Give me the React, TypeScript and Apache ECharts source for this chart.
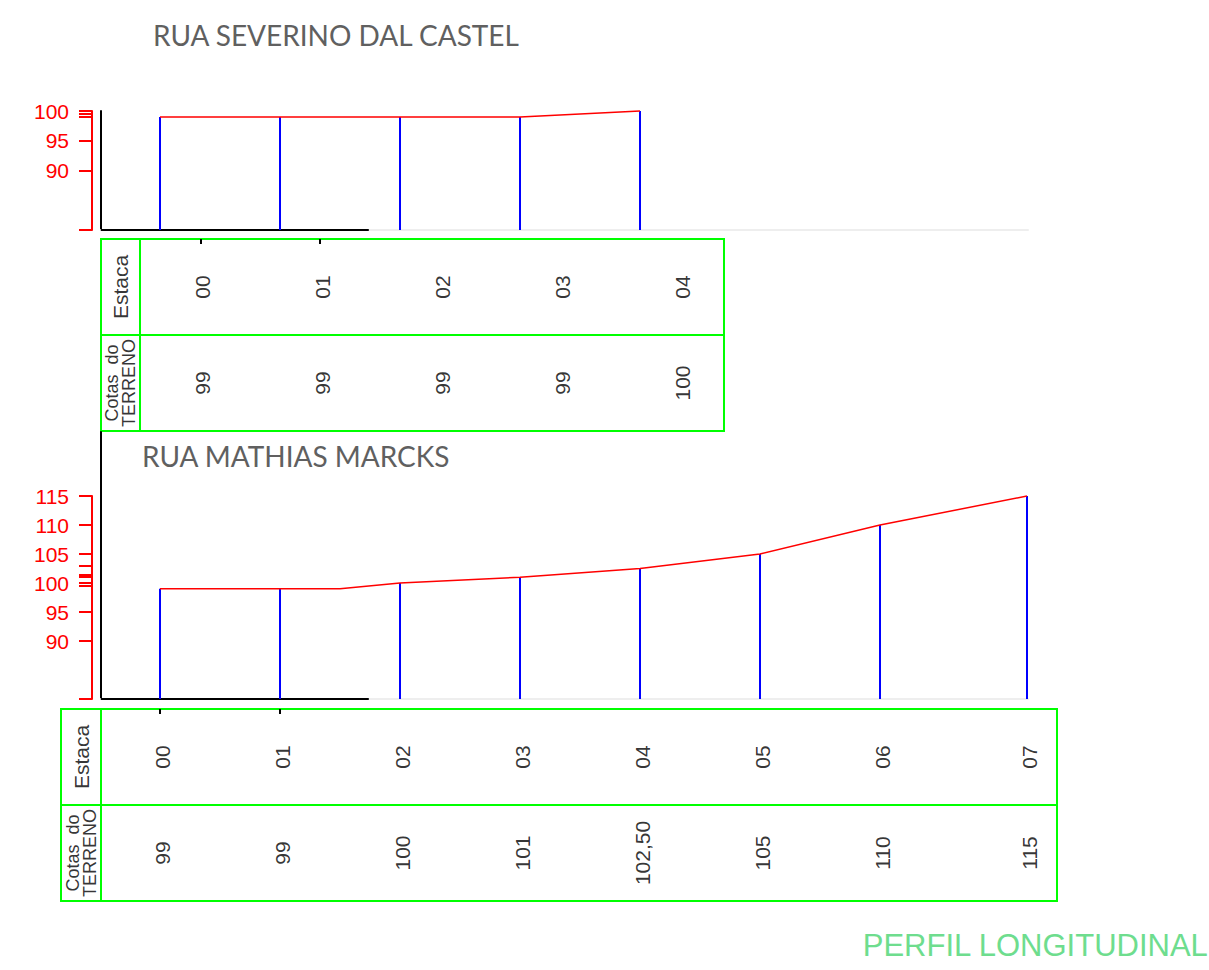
import React, { useEffect, useRef } from 'react';
import * as echarts from 'echarts';

// ---------- data ----------
const topTitle = 'RUA SEVERINO DAL CASTEL';
const bottomTitle = 'RUA MATHIAS MARCKS';
const footerTitle = 'PERFIL LONGITUDINAL';

const topStakes = ['00', '01', '02', '03', '04'];
const topStakeX = [0, 1, 2, 3, 4];
const topCotasLabels = ['99', '99', '99', '99', '100'];
const topCotas = [99, 99, 99, 99, 100];

const bottomStakes = ['00', '01', '02', '03', '04', '05', '06', '07'];
const bottomStakeX = [0, 1, 2, 3, 4, 5, 6, 7.225];
const bottomCotasLabels = ['99', '99', '100', '101', '102,50', '105', '110', '115'];
const bottomCotas = [99, 99, 100, 101, 102.5, 105, 110, 115];

const bottomProfileX = [0, 1, 1.5, 2, 3, 4, 5, 6, 7.225];
const bottomProfileY = [99, 99, 99, 100, 101, 102.5, 105, 110, 115];

const topTickValues = [80, 90, 95, 99, 99.5, 100];
const topTickLabels = [90, 95, 100];
const bottomTickValues = [80, 90, 95, 99.5, 100, 101, 101.5, 103, 105, 110, 115];
const bottomTickLabels = [90, 95, 100, 105, 110, 115];

const topTableTicks = [0.34, 1.33];
const bottomTableTicks = [0, 1];
const topTableLabelShift = 0.35;
const baselineBlackEnd = 1.74;

const yMinCota = 80;
const topMaxCota = 100;
const bottomMaxCota = 115;

// ---------- layout ----------
const PX_PER_STATION = 120;
const STATION0_PX = 160;
const xAt = (px: number) => (px - STATION0_PX) / PX_PER_STATION;

const PLOT_LEFT = 101;
const PLOT_WIDTH = 927;
const TOP_PLOT = { top: 111, height: 119 };
const BOT_PLOT = { top: 496, height: 203 };
const BOT_FRAME = { top: 432, height: 267 };
const TOP_TABLE = { left: 101, top: 239, width: 623, height: 192, head: 39 };
const BOT_TABLE = { left: 61, top: 709, width: 996, height: 192, head: 40 };

const RED = '#ff0000';
const BLUE = '#0000ff';
const GREEN = '#00ff00';
const FONT = '"Liberation Sans", Arial, sans-serif';
const TITLE_FONT = 'Lato, "Open Sans", sans-serif';

export default function App() {
  const ref = useRef<HTMLDivElement>(null);

  useEffect(() => {
    if (!ref.current) return;
    const chart = echarts.init(ref.current, null, { renderer: 'svg' });

    const plotXMin = xAt(PLOT_LEFT);
    const plotXMax = xAt(PLOT_LEFT + PLOT_WIDTH);

    const hidden = { show: false };

    const plotX = (gridIndex: number) => ({
      type: 'value', gridIndex, min: plotXMin, max: plotXMax,
      axisLine: { show: true, onZero: false, lineStyle: { color: '#eeeeee', width: 2 } },
      axisTick: hidden, axisLabel: hidden, splitLine: hidden,
    });

    const tableX = (gridIndex: number, left: number, width: number, ticks: number[]) => ({
      type: 'value', gridIndex, position: 'top', min: xAt(left), max: xAt(left + width),
      axisLine: { show: false, onZero: false },
      axisTick: { show: true, inside: true, length: 5, customValues: ticks, lineStyle: { color: '#000', width: 2 } },
      axisLabel: hidden, splitLine: hidden,
    });

    const unitX = (gridIndex: number) => ({ type: 'value', gridIndex, min: 0, max: 1, show: false });

    const blackY = (gridIndex: number, min: number, max: number) => ({
      type: 'value', gridIndex, min, max, position: 'left',
      axisLine: { show: true, onZero: false, lineStyle: { color: '#000', width: 2 } },
      axisTick: hidden, axisLabel: hidden, splitLine: hidden,
    });

    const redY = (gridIndex: number, max: number, ticks: number[], labels: number[]) => ({
      type: 'value', gridIndex, min: yMinCota, max, position: 'left', offset: 9,
      axisLine: { show: true, onZero: false, lineStyle: { color: RED, width: 2 } },
      axisTick: { show: true, inside: false, length: 13, customValues: ticks, lineStyle: { color: RED, width: 2 } },
      axisLabel: { show: true, customValues: labels, color: RED, fontSize: 21, fontFamily: FONT, margin: 23 },
      splitLine: hidden,
    });

    const tableY = (gridIndex: number) => ({
      type: 'value', gridIndex, min: 0, max: 2, interval: 1,
      axisLine: hidden, axisTick: hidden, axisLabel: hidden,
      splitLine: { show: true, lineStyle: { color: GREEN, width: 2 } },
    });

    const tableGrid = (left: number, top: number, width: number, height: number) => ({
      left, top, width, height, show: true, borderColor: GREEN, borderWidth: 2, backgroundColor: 'transparent',
    });

    const stemSeries = (axisIndex: [number, number], xs: number[], ys: number[]) => ({
      type: 'custom', xAxisIndex: axisIndex[0], yAxisIndex: axisIndex[1], clip: false, silent: true, z: 3,
      data: xs.map((x, i) => [x, ys[i]]),
      renderItem: (_p: any, api: any) => {
        const a = api.coord([api.value(0), api.value(1)]);
        const b = api.coord([api.value(0), yMinCota]);
        return { type: 'line', shape: { x1: a[0], y1: a[1], x2: b[0], y2: b[1] }, style: { stroke: BLUE, lineWidth: 2 } };
      },
    });

    const profileSeries = (axisIndex: [number, number], xs: number[], ys: number[]) => ({
      type: 'line', xAxisIndex: axisIndex[0], yAxisIndex: axisIndex[1], clip: false, silent: true, z: 4,
      showSymbol: false, symbol: 'none',
      lineStyle: { color: RED, width: 1.5 },
      data: xs.map((x, i) => [x, ys[i]]),
    });

    const baselineSeries = (axisIndex: [number, number]) => ({
      type: 'line', xAxisIndex: axisIndex[0], yAxisIndex: axisIndex[1], clip: false, silent: true, z: 2,
      symbol: 'none', lineStyle: { color: '#000', width: 2 },
      data: [[plotXMin, yMinCota], [baselineBlackEnd, yMinCota]],
    });

    const textSeries = (xi: number, yi: number, items: any[], fontSize: number, lineHeight?: number) => ({
      type: 'scatter', xAxisIndex: xi, yAxisIndex: yi, symbolSize: 1, silent: true, z: 5,
      itemStyle: { color: 'transparent' },
      data: items,
      label: {
        show: true, position: 'inside', rotate: 90, formatter: '{b}', color: '#000',
        fontSize, fontFamily: FONT, lineHeight: lineHeight || fontSize,
      },
    });

    const option: any = {
      animation: false,
      backgroundColor: '#ffffff',
      grid: [
        { left: PLOT_LEFT, width: PLOT_WIDTH, top: TOP_PLOT.top, height: TOP_PLOT.height },
        { left: PLOT_LEFT, width: PLOT_WIDTH, top: BOT_PLOT.top, height: BOT_PLOT.height },
        { left: PLOT_LEFT, width: PLOT_WIDTH, top: BOT_FRAME.top, height: BOT_FRAME.height },
        tableGrid(TOP_TABLE.left, TOP_TABLE.top, TOP_TABLE.width, TOP_TABLE.height),
        tableGrid(TOP_TABLE.left, TOP_TABLE.top, TOP_TABLE.head, TOP_TABLE.height),
        tableGrid(BOT_TABLE.left, BOT_TABLE.top, BOT_TABLE.width, BOT_TABLE.height),
        tableGrid(BOT_TABLE.left, BOT_TABLE.top, BOT_TABLE.head, BOT_TABLE.height),
      ],
      xAxis: [
        plotX(0),
        plotX(1),
        { type: 'value', gridIndex: 2, min: 0, max: 1, show: false },
        tableX(3, TOP_TABLE.left, TOP_TABLE.width, topTableTicks),
        unitX(4),
        tableX(5, BOT_TABLE.left, BOT_TABLE.width, bottomTableTicks),
        unitX(6),
      ],
      yAxis: [
        blackY(0, yMinCota, topMaxCota),
        redY(0, topMaxCota, topTickValues, topTickLabels),
        redY(1, bottomMaxCota, bottomTickValues, bottomTickLabels),
        blackY(2, 0, 1),
        tableY(3),
        tableY(4),
        tableY(5),
        tableY(6),
      ],
      series: [
        baselineSeries([0, 0]),
        stemSeries([0, 0], topStakeX, topCotas),
        profileSeries([0, 0], topStakeX, topCotas),
        baselineSeries([1, 2]),
        stemSeries([1, 2], bottomStakeX, bottomCotas),
        profileSeries([1, 2], bottomProfileX, bottomProfileY),
        textSeries(3, 4, topStakes.map((s, i) => ({ name: s, value: [topStakeX[i] + topTableLabelShift, 1.5] })), 21),
        textSeries(3, 4, topCotasLabels.map((s, i) => ({ name: s, value: [topStakeX[i] + topTableLabelShift, 0.5] })), 21),
        textSeries(4, 5, [{ name: 'Estaca', value: [0.5, 1.5] }], 21),
        textSeries(4, 5, [{ name: 'Cotas  do\nTERRENO', value: [0.5, 0.5] }], 18, 17),
        textSeries(5, 6, bottomStakes.map((s, i) => ({ name: s, value: [bottomStakeX[i] + 0.02, 1.5] })), 21),
        textSeries(5, 6, bottomCotasLabels.map((s, i) => ({ name: s, value: [bottomStakeX[i] + 0.02, 0.5] })), 21),
        textSeries(6, 7, [{ name: 'Estaca', value: [0.5, 1.5] }], 21),
        textSeries(6, 7, [{ name: 'Cotas  do\nTERRENO', value: [0.5, 0.5] }], 18, 17),
      ],
      graphic: [
        {
          type: 'text', left: 153, top: 21,
          style: { text: topTitle, fill: '#606060', fontSize: 28, fontFamily: TITLE_FONT },
        },
        {
          type: 'text', left: 142, top: 442,
          style: { text: bottomTitle, fill: '#606060', fontSize: 28, fontFamily: TITLE_FONT },
        },
        {
          type: 'text', right: 0, top: 930,
          style: { text: footerTitle, fill: '#6edd8e', fontSize: 31, fontFamily: FONT },
        },
      ],
    };

    chart.setOption(option);
    return () => chart.dispose();
  }, []);

  return (
    <div
      ref={ref}
      style={{ position: 'absolute', left: 0, top: 0, width: 1209, height: 970, background: '#fff' }}
    />
  );
}
